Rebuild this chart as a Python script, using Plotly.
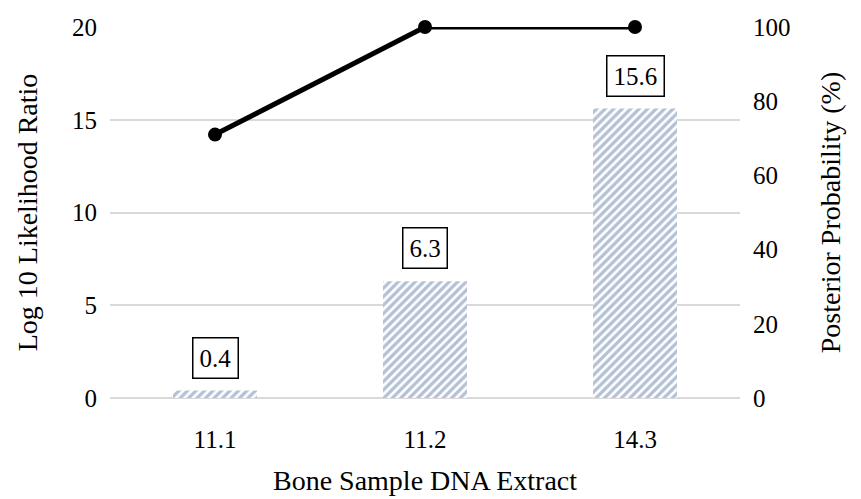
import plotly.graph_objects as go

categories = ["11.1", "11.2", "14.3"]
log_lr = [0.4, 6.3, 15.6]
posterior = [71, 100, 100]
bar_labels = ["0.4", "6.3", "15.6"]

FONT = "Liberation Serif"
TICKF = dict(family=FONT, size=25, color="black")

fig = go.Figure()
fig.add_trace(go.Bar(
    x=categories, y=log_lr, yaxis="y",
    marker=dict(color="white", line=dict(width=0),
                pattern=dict(shape="/", fgcolor="#6a83ab", bgcolor="white",
                             size=6, solidity=0.55)),
    showlegend=False,
))
fig.add_trace(go.Scatter(
    x=categories, y=posterior, yaxis="y2", mode="lines+markers", cliponaxis=False,
    line=dict(color="black", width=5), marker=dict(color="black", size=14),
    showlegend=False,
))
for i, (v, t) in enumerate(zip(log_lr, bar_labels)):
    fig.add_annotation(x=i, y=v, xref="x", yref="y", text=t, showarrow=False,
                       yshift=33, font=dict(family=FONT, size=25, color="black"),
                       bordercolor="black", borderwidth=1.5, borderpad=6, bgcolor="white")

fig.update_layout(
    width=861, height=499, margin=dict(l=110, r=121, t=27, b=101, autoexpand=False),
    plot_bgcolor="white", paper_bgcolor="white", bargap=0.6,
    font=dict(family=FONT, size=23, color="black"),
    xaxis=dict(type="category", categoryorder="array", categoryarray=categories,
               range=[-0.5, len(categories) - 0.5], tickangle=0, tickfont=TICKF,
               ticklabelstandoff=24,
               title=dict(text="Bone Sample DNA Extract", standoff=18),
               showgrid=False, showline=False, ticks=""),
    yaxis=dict(title=dict(text="Log 10 Likelihood Ratio", standoff=26),
               range=[0, 20], dtick=5, tickfont=TICKF,
               showgrid=True, gridcolor="#d9d9d9", gridwidth=1.5, zeroline=True,
               zerolinecolor="#d9d9d9", zerolinewidth=1.5, showline=False, ticks="",
               ticklabelstandoff=12),
    yaxis2=dict(title=dict(text="Posterior Probability (%)", standoff=30),
                range=[0, 100], dtick=20, tickfont=TICKF,
                overlaying="y", side="right", showgrid=False, zeroline=False,
                showline=False, ticks="", ticklabelstandoff=12),
)
fig.write_html("out.html")
